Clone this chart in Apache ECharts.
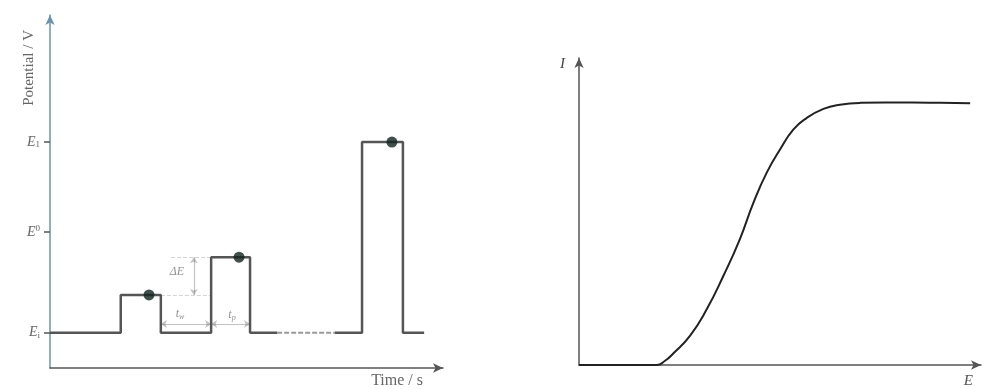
<!DOCTYPE html>
<html>
<head>
<meta charset="utf-8">
<script src="https://cdn.jsdelivr.net/npm/echarts@6/dist/echarts.min.js"></script>
<style>
  html, body { margin: 0; padding: 0; background: #fff; }
  #chart { width: 984px; height: 389px; }
</style>
</head>
<body>
<div id="chart"></div>
<script>
// left panel: potential waveform (arbitrary units)
const waveTime = [0, 18, 18, 28.2, 28.2, 41, 41, 50.9, 50.9, 57.8];
const wavePot = [1, 1, 2.07, 2.07, 1, 1, 3.14, 3.14, 1, 1];
const gapTime = [57.8, 72.5];
const gapPot = [1, 1];
const pulseTime = [72.5, 79.4, 79.4, 89.8, 89.8, 95.2];
const pulsePot = [1, 1, 6.4, 6.4, 1, 1];
const dotTime = [25.2, 48.1, 87.0];
const dotPot = [2.07, 3.14, 6.4];
const potTicks = [1, 3.85, 6.4];
const potTickLabels = ['{e|E}{sub|i}', '{e|E}{sup|0}', '{e|E}{sub|1}'];
// guide lines and arrows: [t1, v1, t2, v2]
const guideLines = [[30.8, 3.14, 41, 3.14], [28.2, 2.07, 41, 2.07]];
const arrows = [[36.6, 2.07, 36.6, 3.14], [28.2, 1.25, 41, 1.25], [41, 1.25, 50.9, 1.25]];
const noteText = ['ΔE', 't{s|w}', 't{s|p}'];
const noteTime = [32.3, 33.1, 46.3];
const notePot = [2.72, 1.53, 1.5];

// right panel: current vs potential
const curveE = [0, 0.6, 1.2, 1.6, 1.93, 2.14, 2.35, 2.76, 3.18, 3.59, 4.0, 4.34, 4.67, 5.0, 5.33, 5.66, 6.08, 6.49, 7.0, 7.6, 8.3, 9.0, 9.73];
const curveI = [0, 0, 0, 0, 0, 0.016, 0.045, 0.111, 0.213, 0.339, 0.479, 0.619, 0.733, 0.821, 0.897, 0.941, 0.976, 0.992, 0.999, 1.0, 1.0, 0.999, 0.998];

const zip = (a, b) => a.map((v, i) => [v, b[i]]);

const chart = echarts.init(document.getElementById('chart'));

const serif = 'Liberation Serif';
const rich = {
    e: { fontFamily: serif, fontStyle: 'italic', fontSize: 14, color: '#666' },
    sub: { fontFamily: serif, fontSize: 9, color: '#666', verticalAlign: 'bottom', padding: [6, 0, 0, 0] },
    sup: { fontFamily: serif, fontSize: 9, color: '#666', verticalAlign: 'top', padding: [0, 0, 6, 0] }
};

chart.setOption({
    animation: false,
    grid: [
        { left: 50, right: 541, top: 15, bottom: 21 },
        { left: 579, right: 3, top: 58, bottom: 23 }
    ],
    xAxis: [
        {
            gridIndex: 0, type: 'value', min: 0, max: 100,
            axisLine: { lineStyle: { color: '#555', width: 1.5 }, symbol: ['none', 'arrow'], symbolSize: [7, 10] },
            axisTick: { show: false }, axisLabel: { show: false }, splitLine: { show: false },
            name: 'Time / s', nameLocation: 'end', nameGap: -20,
            nameTextStyle: { fontFamily: serif, fontSize: 16, color: '#666', align: 'right', verticalAlign: 'top', padding: [5, 0, 0, 0] }
        },
        {
            gridIndex: 1, type: 'value', min: 0, max: 10,
            axisLine: { lineStyle: { color: '#555', width: 1.5 }, symbol: ['none', 'arrow'], symbolSize: [7, 10] },
            axisTick: { show: false }, axisLabel: { show: false }, splitLine: { show: false },
            name: 'E', nameLocation: 'end', nameGap: -8,
            nameTextStyle: { fontFamily: serif, fontStyle: 'italic', fontSize: 15, color: '#555', align: 'right', verticalAlign: 'top', padding: [9, 0, 0, 0] }
        }
    ],
    yAxis: [
        {
            gridIndex: 0, type: 'value', min: 0, max: 10,
            axisLine: { lineStyle: { color: '#6d93a8', width: 1.5 }, symbol: ['none', 'arrow'], symbolSize: [7, 10] },
            axisTick: { show: true, length: 6, customValues: potTicks, lineStyle: { color: '#555', width: 1.5 } },
            axisLabel: {
                customValues: potTicks, margin: 10,
                formatter: v => potTickLabels[potTicks.indexOf(v)] || '',
                rich: rich
            },
            splitLine: { show: false },
            name: 'Potential / V', nameLocation: 'end', nameGap: -15, nameRotate: 90,
            nameTextStyle: { fontFamily: serif, fontSize: 15, color: '#666', align: 'right', verticalAlign: 'bottom', padding: [0, 0, 13, 0] }
        },
        {
            gridIndex: 1, type: 'value', min: 0, max: 1.17,
            axisLine: { lineStyle: { color: '#555', width: 1.5 }, symbol: ['none', 'arrow'], symbolSize: [7, 10] },
            axisTick: { show: false }, axisLabel: { show: false }, splitLine: { show: false },
            name: 'I', nameLocation: 'end', nameGap: -14,
            nameTextStyle: { fontFamily: serif, fontStyle: 'italic', fontSize: 15, color: '#444', align: 'right', padding: [0, 14, 0, 0] }
        }
    ],
    series: [
        {
            type: 'line', xAxisIndex: 0, yAxisIndex: 0, data: zip(waveTime, wavePot),
            showSymbol: false, lineStyle: { color: '#555', width: 2.5 }
        },
        {
            type: 'line', xAxisIndex: 0, yAxisIndex: 0, data: zip(gapTime, gapPot),
            showSymbol: false, lineStyle: { color: '#999', width: 2, type: [5, 2] }
        },
        {
            type: 'line', xAxisIndex: 0, yAxisIndex: 0, data: zip(pulseTime, pulsePot),
            showSymbol: false, lineStyle: { color: '#555', width: 2.5 }
        },
        {
            type: 'lines', coordinateSystem: 'cartesian2d', xAxisIndex: 0, yAxisIndex: 0,
            symbol: ['none', 'none'],
            lineStyle: { color: '#aaa', width: 1.2, type: [4, 2] },
            data: guideLines.map(g => ({ coords: [[g[0], g[1]], [g[2], g[3]]] }))
        },
        {
            type: 'lines', coordinateSystem: 'cartesian2d', xAxisIndex: 0, yAxisIndex: 0,
            symbol: ['arrow', 'arrow'], symbolSize: 6,
            lineStyle: { color: '#888', width: 1.2 },
            data: arrows.map(a => ({ coords: [[a[0], a[1]], [a[2], a[3]]] }))
        },
        {
            type: 'scatter', xAxisIndex: 0, yAxisIndex: 0, data: zip(dotTime, dotPot),
            symbolSize: 11, itemStyle: { color: '#10221f' }, z: 5
        },
        {
            type: 'scatter', xAxisIndex: 0, yAxisIndex: 0, symbolSize: 0,
            data: noteTime.map((t, i) => ({ value: [t, notePot[i]], label: { formatter: noteText[i] } })),
            label: {
                show: true, position: 'inside',
                fontFamily: serif, fontStyle: 'italic', fontSize: 12, color: '#777',
                rich: { s: { fontFamily: serif, fontSize: 8, color: '#777', verticalAlign: 'bottom', padding: [5, 0, 0, 0] } }
            }
        },
        {
            type: 'line', xAxisIndex: 1, yAxisIndex: 1, data: zip(curveE, curveI),
            showSymbol: false, smooth: 0.5, lineStyle: { color: '#222', width: 2 }
        }
    ]
});

window.addEventListener('resize', () => chart.resize());
</script>
</body>
</html>
